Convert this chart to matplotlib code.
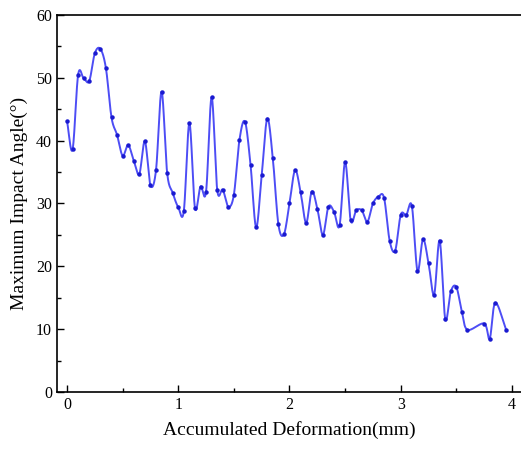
import numpy as np
import matplotlib.pyplot as plt

plt.rcParams['font.family'] = ['Liberation Serif', 'DejaVu Serif']

# Accumulated deformation (mm) and maximum impact angle (deg)
deformation = [0.00, 0.05, 0.10, 0.15, 0.20, 0.25, 0.30, 0.35, 0.40, 0.45,
               0.50, 0.55, 0.60, 0.65, 0.70, 0.75, 0.80, 0.85, 0.90, 0.95,
               1.00, 1.05, 1.10, 1.15, 1.20, 1.25, 1.30, 1.35, 1.40, 1.45,
               1.50, 1.55, 1.60, 1.65, 1.70, 1.75, 1.80, 1.85, 1.90, 1.95,
               2.00, 2.05, 2.10, 2.15, 2.20, 2.25, 2.30, 2.35, 2.40, 2.45,
               2.50, 2.55, 2.60, 2.65, 2.70, 2.75, 2.80, 2.85, 2.90, 2.95,
               3.00, 3.05, 3.10, 3.15, 3.20, 3.25, 3.30, 3.35, 3.40, 3.45,
               3.50, 3.55, 3.60, 3.75, 3.80, 3.85, 3.95]
angle = [43.1, 38.6, 50.5, 49.9, 49.5, 53.9, 54.6, 51.5, 43.7, 40.9,
         37.6, 39.3, 36.8, 34.7, 39.9, 32.9, 35.3, 47.8, 34.9, 31.7,
         29.4, 28.8, 42.8, 29.3, 32.7, 31.9, 46.9, 32.2, 32.2, 29.5,
         31.4, 40.1, 43.0, 36.1, 26.2, 34.5, 43.5, 37.2, 26.7, 25.1,
         30.0, 35.3, 31.8, 26.9, 31.9, 29.2, 25.0, 29.5, 28.7, 26.5,
         36.6, 27.3, 28.9, 28.9, 27.1, 30.0, 31.1, 30.9, 24.1, 22.5,
         28.2, 28.2, 29.6, 19.3, 24.3, 20.5, 15.5, 24.1, 11.6, 16.0,
         16.7, 12.7, 9.9, 10.9, 8.5, 14.2, 9.8]


def catmull_rom(x, y, n=30):
    # smooth curve through the points (cubic Hermite, Catmull-Rom tangents)
    x = np.asarray(x, float)
    y = np.asarray(y, float)
    m = len(x)
    dx = np.zeros(m)
    dy = np.zeros(m)
    dx[1:-1] = (x[2:] - x[:-2]) / 2
    dy[1:-1] = (y[2:] - y[:-2]) / 2
    dx[0], dy[0] = x[1] - x[0], y[1] - y[0]
    dx[-1], dy[-1] = x[-1] - x[-2], y[-1] - y[-2]
    xs, ys = [], []
    t = np.linspace(0, 1, n)
    h00 = 2 * t**3 - 3 * t**2 + 1
    h10 = t**3 - 2 * t**2 + t
    h01 = -2 * t**3 + 3 * t**2
    h11 = t**3 - t**2
    for i in range(m - 1):
        xs.append(h00 * x[i] + h10 * dx[i] + h01 * x[i + 1] + h11 * dx[i + 1])
        ys.append(h00 * y[i] + h10 * dy[i] + h01 * y[i + 1] + h11 * dy[i + 1])
    return np.concatenate(xs), np.concatenate(ys)


fig = plt.figure(figsize=(5.21, 4.51), dpi=100)
ax = fig.add_axes([0.1094, 0.1308, 0.8906, 0.836])

xs, ys = catmull_rom(deformation, angle)
ax.plot(xs, ys, color='#4d4df5', linewidth=1.4)
ax.plot(deformation, angle, 'o', color='#1a1ad0', markersize=2.2)

ax.set_xlim(-0.09, 4.081)
ax.set_ylim(0, 60)
ax.set_xticks([0, 1, 2, 3, 4])
ax.set_xticks([0.5, 1.5, 2.5, 3.5], minor=True)
ax.set_yticks(range(0, 61, 10))
ax.set_yticks(range(5, 60, 10), minor=True)
ax.tick_params(which='both', direction='in', labelsize=11.5, width=1)
ax.tick_params(which='major', length=5)
ax.tick_params(which='minor', length=3)
for s in ax.spines.values():
    s.set_linewidth(1.2)
ax.spines['right'].set_visible(False)

ax.set_xlabel("Accumulated Deformation(mm)", fontsize=14, labelpad=6)
ax.set_ylabel("Maximum Impact Angle(°)", fontsize=14, labelpad=6)

fig.savefig("out.png", dpi=100)
